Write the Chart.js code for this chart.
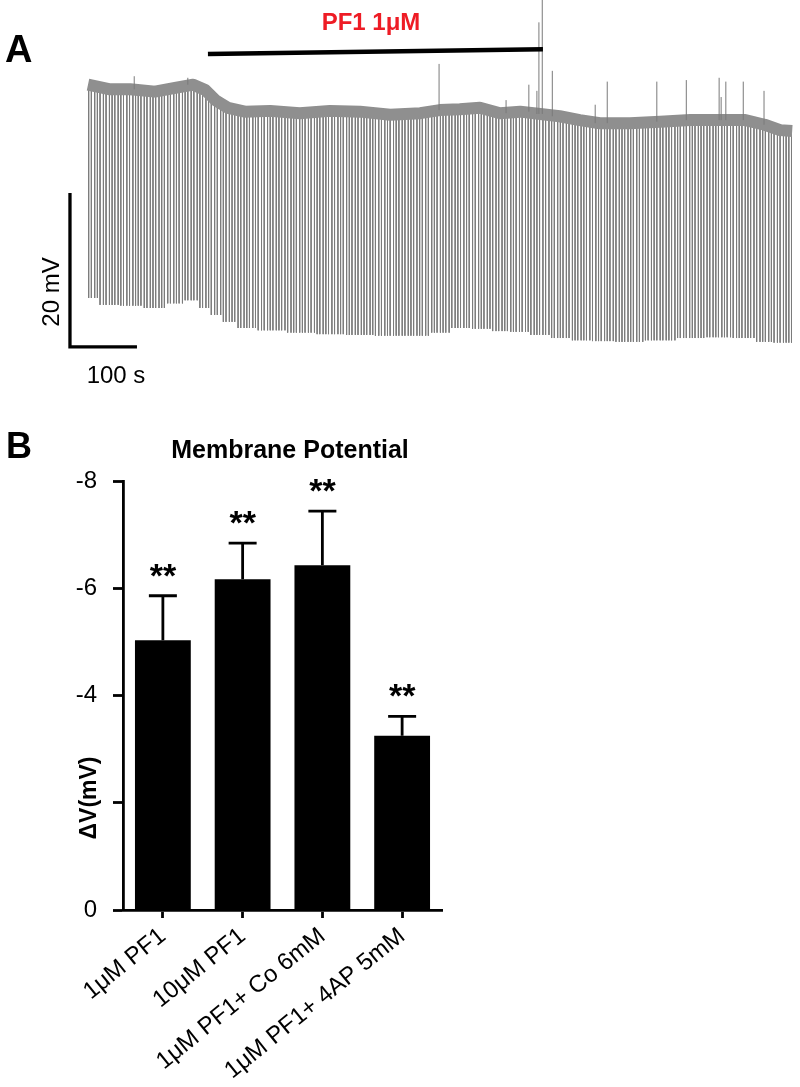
<!DOCTYPE html>
<html>
<head>
<meta charset="utf-8">
<script src="https://cdn.jsdelivr.net/npm/chart.js@4.4.1/dist/chart.umd.min.js"></script>
<style>
  html, body { margin: 0; padding: 0; background: #fff; }
  body { width: 800px; height: 1087px; position: relative; overflow: hidden; }
  #traceBox { position: absolute; left: 0; top: 0; width: 800px; height: 400px; }
  #barBox { position: absolute; left: 0; top: 400px; width: 800px; height: 687px; }
</style>
</head>
<body>
<div id="traceBox"><canvas id="traceChart"></canvas></div>
<div id="barBox"><canvas id="barChart"></canvas></div>
<script>
const FONT = '"Liberation Sans", Arial, Helvetica, sans-serif';
Chart.defaults.font.family = FONT;
Chart.defaults.color = '#000';

// ---- Panel A: recording (time in s, potential in mV) ----
// envelope: resting level and spike troughs
const sampleTimes = [0, 33, 63, 100, 130, 157, 175, 190, 209, 234, 272, 316, 361, 406, 451, 496, 525,
    555, 585, 615, 645, 675, 704, 734, 764, 809, 854, 899, 943, 981, 1010, 1033, 1051];
const baseMv = [-41.0, -41.6, -41.6, -41.9, -41.4, -41.0, -41.7, -43.0, -44.0, -44.5, -44.4, -44.7, -44.4,
    -44.5, -44.9, -44.7, -44.3, -44.2, -44.0, -44.7, -44.5, -44.8, -45.1, -45.6, -46.0, -46.0, -45.8,
    -45.6, -45.6, -45.6, -46.2, -46.9, -47.0];
const troughMv = [-68.7, -69.6, -69.7, -70.0, -69.4, -69.0, -70.0, -70.9, -71.8, -72.6, -72.9, -73.2, -73.4,
    -73.5, -73.6, -73.6, -73.2, -72.6, -72.7, -73.0, -73.1, -73.5, -73.9, -74.2, -74.3, -74.4, -74.2,
    -73.9, -73.8, -73.9, -74.4, -74.5, -74.5];

// spike times
const spikeTimes = [
    1, 5, 10, 14, 18, 23, 27, 32, 36, 40,
    45, 49, 53, 58, 62, 67, 71, 75, 79, 84,
    88, 93, 97, 101, 106, 110, 114, 119, 123, 128,
    132, 136, 141, 145, 149, 154, 158, 163, 167, 171,
    176, 180, 184, 189, 193, 198, 202, 206, 211, 215,
    219, 224, 228, 233, 237, 241, 246, 250, 254, 259,
    263, 268, 272, 276, 281, 285, 289, 294, 298, 303,
    307, 311, 316, 320, 324, 329, 333, 338, 342, 346,
    351, 355, 359, 364, 368, 373, 377, 381, 386, 390,
    394, 399, 403, 408, 412, 416, 421, 425, 429, 434,
    438, 443, 447, 451, 456, 460, 464, 469, 473, 478,
    482, 486, 491, 495, 499, 504, 508, 513, 517, 521,
    526, 530, 534, 539, 543, 548, 552, 556, 561, 565,
    569, 574, 578, 583, 587, 591, 596, 600, 604, 609,
    613, 618, 622, 626, 631, 635, 639, 644, 648, 653,
    657, 661, 666, 670, 674, 679, 683, 688, 692, 696,
    701, 705, 709, 714, 718, 723, 727, 731, 736, 740,
    744, 749, 753, 758, 762, 766, 771, 775, 779, 784,
    788, 793, 797, 801, 806, 810, 814, 819, 823, 828,
    832, 836, 841, 845, 849, 854, 858, 863, 867, 871,
    876, 880, 884, 889, 893, 898, 902, 906, 911, 915,
    919, 924, 928, 933, 937, 941, 946, 950, 954, 959,
    963, 968, 972, 976, 981, 985, 989, 994, 998, 1003,
    1007, 1011, 1016, 1020, 1024, 1029, 1033, 1038, 1042, 1046,
    1050
];

// small upward transients
const upTimes = [69, 149, 524, 624, 658, 670, 673, 678, 693, 757, 775, 849, 893, 942, 945, 952, 978, 1009];
const upPeakMv = [-39.9, -40.1, -38.3, -43.0, -41.0, -41.8, -32.9, -29.0, -39.2, -43.6, -40.6, -40.6,
    -40.4, -40.1, -42.6, -40.6, -40.6, -41.8];

// drug application bar
const drugLabel = 'PF1 1μM';
const drugTimes = [179, 679];
const drugMv = [-37.0, -36.4];

// scale bars
const scaleBarSec = 100;
const scaleBarMv = 20;
const scaleBarAt = { t: -26.9, v: -75.06 };

function nearestSample(t) {
    let best = 0;
    sampleTimes.forEach((s, i) => {
        if (Math.abs(s - t) < Math.abs(sampleTimes[best] - t)) best = i;
    });
    return best;
}

const spikePts = [];
spikeTimes.forEach(t => {
    const i = nearestSample(t);
    spikePts.push({ x: t, y: baseMv[i] }, { x: t, y: troughMv[i] }, { x: t, y: null });
});

const upPts = [];
upTimes.forEach((t, k) => {
    const i = nearestSample(t);
    upPts.push({ x: t, y: baseMv[i] }, { x: t, y: upPeakMv[k] }, { x: t, y: null });
});

const traceText = {
    id: 'traceText',
    afterDraw(chart) {
        const ctx = chart.ctx;
        ctx.save();
        ctx.fillStyle = '#000';
        ctx.textBaseline = 'alphabetic';
        ctx.font = 'bold 38px ' + FONT;
        ctx.textAlign = 'left';
        ctx.fillText('A', 5, 62);

        ctx.fillStyle = '#ee1c25';
        ctx.font = 'bold 24px ' + FONT;
        ctx.textAlign = 'center';
        ctx.fillText(drugLabel, 371, 30);

        ctx.fillStyle = '#000';
        ctx.font = '24px ' + FONT;
        ctx.fillText(scaleBarSec + ' s', 116, 383);

        ctx.translate(59, 292);
        ctx.rotate(-Math.PI / 2);
        ctx.fillText(scaleBarMv + ' mV', 0, 0);
        ctx.restore();
    }
};

new Chart(document.getElementById('traceChart'), {
    type: 'line',
    data: {
        datasets: [
            {
                data: sampleTimes.map((t, i) => ({ x: t, y: baseMv[i] })),
                borderColor: '#8f8f8f',
                borderWidth: 12,
                borderCapStyle: 'butt',
                borderJoinStyle: 'round',
                pointRadius: 0,
                order: 2
            },
            {
                data: spikePts,
                borderColor: '#7c7c7c',
                borderWidth: 1,
                pointRadius: 0,
                spanGaps: false,
                order: 3
            },
            {
                data: upPts,
                borderColor: '#7a7a7a',
                borderWidth: 1,
                pointRadius: 0,
                spanGaps: false,
                order: 1
            },
            {
                data: drugTimes.map((t, i) => ({ x: t, y: drugMv[i] })),
                borderColor: '#000',
                borderWidth: 4.5,
                pointRadius: 0,
                order: 0
            },
            {
                data: [
                    { x: scaleBarAt.t, y: scaleBarAt.v + scaleBarMv },
                    { x: scaleBarAt.t, y: scaleBarAt.v },
                    { x: scaleBarAt.t + scaleBarSec, y: scaleBarAt.v }
                ],
                borderColor: '#000',
                borderWidth: 3.3,
                borderJoinStyle: 'miter',
                pointRadius: 0,
                order: 0
            }
        ]
    },
    options: {
        responsive: true,
        maintainAspectRatio: false,
        animation: false,
        layout: { padding: 0 },
        plugins: { legend: { display: false }, tooltip: { enabled: false } },
        scales: {
            x: { type: 'linear', display: false, min: -131.34, max: 1062.69 },
            y: { type: 'linear', display: false, min: -81.95, max: -30 }
        }
    },
    plugins: [traceText]
});

// ---- Panel B: membrane potential change ----
const categories = ['1μM PF1', '10μM PF1', '1μM PF1+ Co 6mM', '1μM PF1+ 4AP 5mM'];
const deltaV = [-5.03, -6.17, -6.43, -3.25];
const deltaVErr = [0.83, 0.67, 1.01, 0.36];
const significance = ['**', '**', '**', '**'];
const yTickValues = [-8, -6, -4, -2, 0];
const yTickLabels = ['-8', '-6', '-4', '', '0'];

const barExtras = {
    id: 'barExtras',
    afterDatasetsDraw(chart) {
        const ctx = chart.ctx;
        const ys = chart.scales.y;
        const meta = chart.getDatasetMeta(0);
        ctx.save();
        ctx.strokeStyle = '#000';
        ctx.fillStyle = '#000';
        ctx.lineWidth = 2.8;
        meta.data.forEach((bar, i) => {
            const top = ys.getPixelForValue(deltaV[i]);
            const end = ys.getPixelForValue(deltaV[i] - deltaVErr[i]);
            ctx.beginPath();
            ctx.moveTo(bar.x, top);
            ctx.lineTo(bar.x, end);
            ctx.moveTo(bar.x - 14, end);
            ctx.lineTo(bar.x + 14, end);
            ctx.stroke();
            ctx.font = 'bold 34px ' + FONT;
            ctx.textAlign = 'center';
            ctx.textBaseline = 'alphabetic';
            ctx.fillText(significance[i], bar.x, end - 9);
        });
        ctx.restore();
    },
    afterDraw(chart) {
        const ctx = chart.ctx;
        ctx.save();
        ctx.fillStyle = '#000';
        ctx.textBaseline = 'alphabetic';
        ctx.font = 'bold 36px ' + FONT;
        ctx.textAlign = 'left';
        ctx.fillText('B', 6, 58);
        ctx.font = 'bold 25px ' + FONT;
        ctx.textAlign = 'center';
        ctx.fillText('Membrane Potential', 290, 58);
        ctx.translate(96, 398);
        ctx.rotate(-Math.PI / 2);
        ctx.font = 'bold 23px ' + FONT;
        ctx.fillText('ΔV(mV)', 0, 0);
        ctx.restore();
    }
};

new Chart(document.getElementById('barChart'), {
    type: 'bar',
    data: {
        labels: categories,
        datasets: [{
            data: deltaV,
            backgroundColor: '#000',
            borderWidth: 0,
            barPercentage: 0.7,
            categoryPercentage: 1.0
        }]
    },
    options: {
        responsive: true,
        maintainAspectRatio: false,
        animation: false,
        layout: { padding: { top: 81, left: 0, right: 358, bottom: 0 } },
        plugins: { legend: { display: false }, tooltip: { enabled: false } },
        scales: {
            x: {
                offset: true,
                grid: {
                    display: true,
                    drawOnChartArea: false,
                    offset: false,
                    tickLength: 8,
                    tickWidth: 2.8,
                    tickColor: '#000'
                },
                border: { display: true, color: '#000', width: 2.8 },
                ticks: {
                    color: '#000',
                    font: { size: 24 },
                    minRotation: 39,
                    maxRotation: 39,
                    autoSkip: false,
                    padding: 4
                },
                afterFit: s => { s.height = 177; }
            },
            y: {
                reverse: true,
                min: -8,
                max: 0,
                grid: {
                    display: true,
                    drawOnChartArea: false,
                    tickLength: 10,
                    tickWidth: 2.8,
                    tickColor: '#000'
                },
                border: { display: true, color: '#000', width: 2.8 },
                afterBuildTicks: s => { s.ticks = yTickValues.map(v => ({ value: v })); },
                ticks: {
                    color: '#000',
                    font: { size: 24 },
                    padding: 16,
                    callback: v => yTickLabels[yTickValues.indexOf(v)]
                },
                afterFit: s => { s.width = 123; }
            }
        }
    },
    plugins: [barExtras]
});
</script>
</body>
</html>
